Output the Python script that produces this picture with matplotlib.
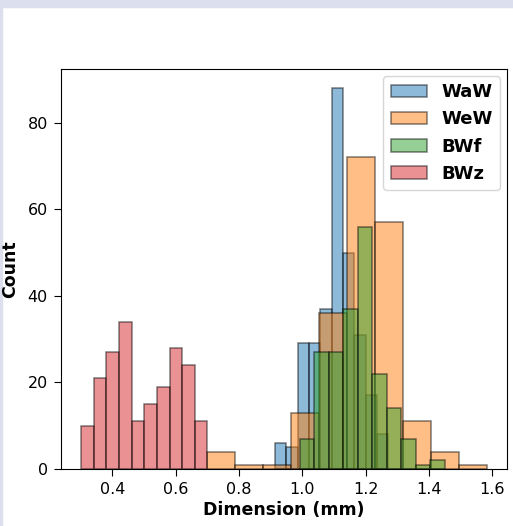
import numpy as np
import matplotlib
matplotlib.use("Agg")
import matplotlib.pyplot as plt
from matplotlib.patches import Rectangle

# bin edges (mm) and counts for each worm group
waw_edges = np.linspace(0.914, 1.271, 11)
waw_counts = [6, 5, 29, 29, 37, 88, 50, 31, 17, 8]

wew_edges = np.linspace(0.700, 1.582, 11)
wew_counts = [4, 1, 1, 13, 36, 72, 57, 11, 4, 1]

bwf_edges = np.linspace(0.991, 1.450, 11)
bwf_counts = [7, 27, 27, 37, 56, 22, 14, 7, 1, 2]

bwz_edges = np.linspace(0.302, 0.700, 11)
bwz_counts = [10, 21, 27, 34, 11, 15, 19, 28, 24, 11]

groups = [
    ("WaW", waw_edges, waw_counts, "#1f77b4"),
    ("WeW", wew_edges, wew_counts, "#ff7f0e"),
    ("BWf", bwf_edges, bwf_counts, "#2ca02c"),
    ("BWz", bwz_edges, bwz_counts, "#d62728"),
]

fig = plt.figure(figsize=(5.13, 5.26), dpi=100)
# light frame strip along the top and left edge
fig.patches.append(Rectangle((0, 0.987), 1, 0.013, transform=fig.transFigure,
                             color="#dcdfee", zorder=-1))
fig.patches.append(Rectangle((0, 0), 0.004, 1, transform=fig.transFigure,
                             color="#dcdfee", zorder=-1))

ax = fig.add_axes([0.1189, 0.1084, 0.8694, 0.7604])

for name, edges, counts, color in groups:
    ax.hist(edges[:-1], bins=edges, weights=counts, color=color,
            alpha=0.5, edgecolor="black", linewidth=1.1, label=name)

ax.set_xticks([0.4, 0.6, 0.8, 1.0, 1.2, 1.4, 1.6])
ax.set_yticks([0, 20, 40, 60, 80])
ax.tick_params(labelsize=11.5, length=5, pad=4.5)
ax.set_xlabel("Dimension (mm)", fontsize=12.5, fontweight="bold", labelpad=3)
ax.set_ylabel("Count", fontsize=12.5, fontweight="bold", labelpad=6)
ax.legend(prop={"weight": "bold", "size": 13}, borderaxespad=0.4)

fig.savefig("out.png", dpi=100)
